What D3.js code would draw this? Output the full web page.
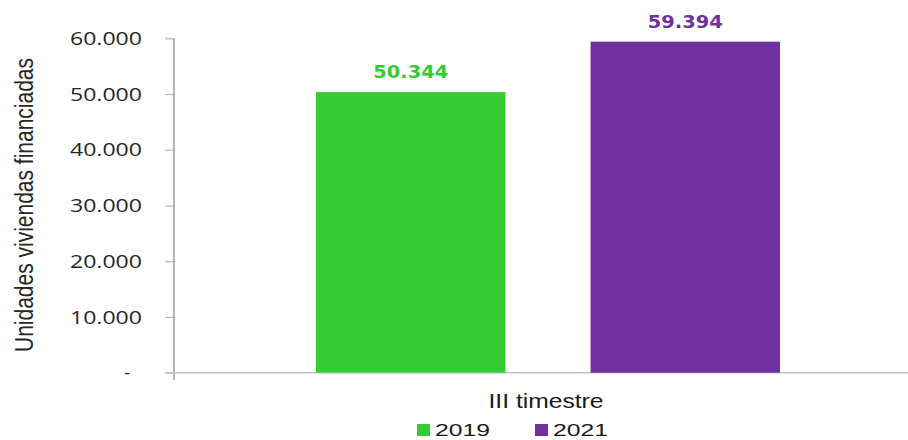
<!DOCTYPE html>
<html>
<head>
<meta charset="utf-8">
<script src="https://cdn.jsdelivr.net/npm/d3@7"></script>
<style>
  html, body { margin: 0; padding: 0; background: #fff; }
  svg { display: block; }
</style>
</head>
<body>
<svg id="chart" width="908" height="440"></svg>
<script>
// Housing units financed, third quarter
const categories = ["III timestre"];
const seriesNames = ["2019", "2021"];
const seriesValues = [50344, 59394];
const seriesColors = ["#33CC33", "#7030A0"];
const yTicks = [0, 10000, 20000, 30000, 40000, 50000, 60000];
const yTitle = "Unidades viviendas financiadas";

const svg = d3.select("#chart");
const plot = { left: 174, right: 908, top: 38.3, bottom: 372.7 };

const fmt = v => v === 0 ? "-" : d3.format(",")(v).replace(/,/g, ".");

const y = d3.scaleLinear().domain([0, 60000]).range([plot.bottom, plot.top]);
const x0 = d3.scaleBand().domain(categories).range([plot.left, plot.right]);
const x1 = d3.scaleBand().domain(seriesNames).range([142, 606]).paddingInner(0.31).paddingOuter(0.0);

// Y axis
const yAxis = svg.append("g")
  .attr("transform", `translate(${plot.left},0)`)
  .call(d3.axisLeft(y).tickValues(yTicks).tickSize(9).tickPadding(23).tickFormat(fmt));
yAxis.select(".domain").remove();
yAxis.selectAll(".tick line").attr("stroke", "#bdbdbd").attr("stroke-width", 1.3);
yAxis.selectAll(".tick text")
  .attr("fill", "#262626")
  .attr("font-family", "'Open Sans', sans-serif")
  .attr("font-size", 17.5)
  .attr("dy", "0.35em")
  .attr("x", d => d === 0 ? -44 : -32)
  .attr("textLength", d => d === 0 ? null : 72)
  .attr("lengthAdjust", "spacingAndGlyphs");
yAxis.append("line")
  .attr("x1", 0).attr("x2", 0)
  .attr("y1", plot.top).attr("y2", 380)
  .attr("stroke", "#8c8c8c").attr("stroke-width", 1.3);

// X axis
svg.append("line")
  .attr("x1", 165).attr("x2", plot.right)
  .attr("y1", plot.bottom).attr("y2", plot.bottom)
  .attr("stroke", "#c4c4c4").attr("stroke-width", 1.5);

svg.append("g").selectAll("text")
  .data(categories)
  .join("text")
  .attr("x", d => x0(d) + x0.bandwidth() / 2 + 5)
  .attr("y", 408)
  .attr("text-anchor", "middle")
  .attr("fill", "#1a1a1a")
  .attr("font-family", "'Liberation Sans Narrow', 'Liberation Sans', sans-serif")
  .attr("font-size", 20)
  .attr("textLength", 115)
  .attr("lengthAdjust", "spacingAndGlyphs")
  .text(d => d);

// Bars
const bars = svg.append("g").attr("transform", `translate(${x0(categories[0])},0)`);
bars.selectAll("rect")
  .data(seriesValues)
  .join("rect")
  .attr("x", (d, i) => x1(seriesNames[i]))
  .attr("width", x1.bandwidth())
  .attr("y", d => y(d))
  .attr("height", d => y(0) - y(d))
  .attr("fill", (d, i) => seriesColors[i]);

// Value labels
bars.selectAll("text")
  .data(seriesValues)
  .join("text")
  .attr("x", (d, i) => x1(seriesNames[i]) + x1.bandwidth() / 2)
  .attr("y", d => y(d) - 14)
  .attr("text-anchor", "middle")
  .attr("fill", (d, i) => seriesColors[i])
  .attr("font-family", "'DejaVu Sans', Verdana, sans-serif")
  .attr("font-weight", "bold")
  .attr("font-size", 17)
  .attr("textLength", 75)
  .attr("lengthAdjust", "spacingAndGlyphs")
  .text(d => fmt(d));

// Y axis title
svg.append("text")
  .attr("transform", `translate(33,${(58 + 352) / 2}) rotate(-90)`)
  .attr("text-anchor", "middle")
  .attr("fill", "#262626")
  .attr("font-family", "'Liberation Sans Narrow', 'Liberation Sans', sans-serif")
  .attr("font-size", 25)
  .attr("textLength", 294)
  .attr("lengthAdjust", "spacingAndGlyphs")
  .text(yTitle);

// Legend
const legendX = [417, 535];
const legend = svg.append("g").selectAll("g")
  .data(seriesNames)
  .join("g")
  .attr("transform", (d, i) => `translate(${legendX[i]},424)`);
legend.append("rect")
  .attr("width", 13).attr("height", 12)
  .attr("fill", (d, i) => seriesColors[i]);
legend.append("text")
  .attr("x", 18).attr("y", 12)
  .attr("fill", "#1a1a1a")
  .attr("font-family", "'Liberation Sans', sans-serif")
  .attr("font-size", 16)
  .attr("textLength", 55)
  .attr("lengthAdjust", "spacingAndGlyphs")
  .text(d => d);
</script>
</body>
</html>
